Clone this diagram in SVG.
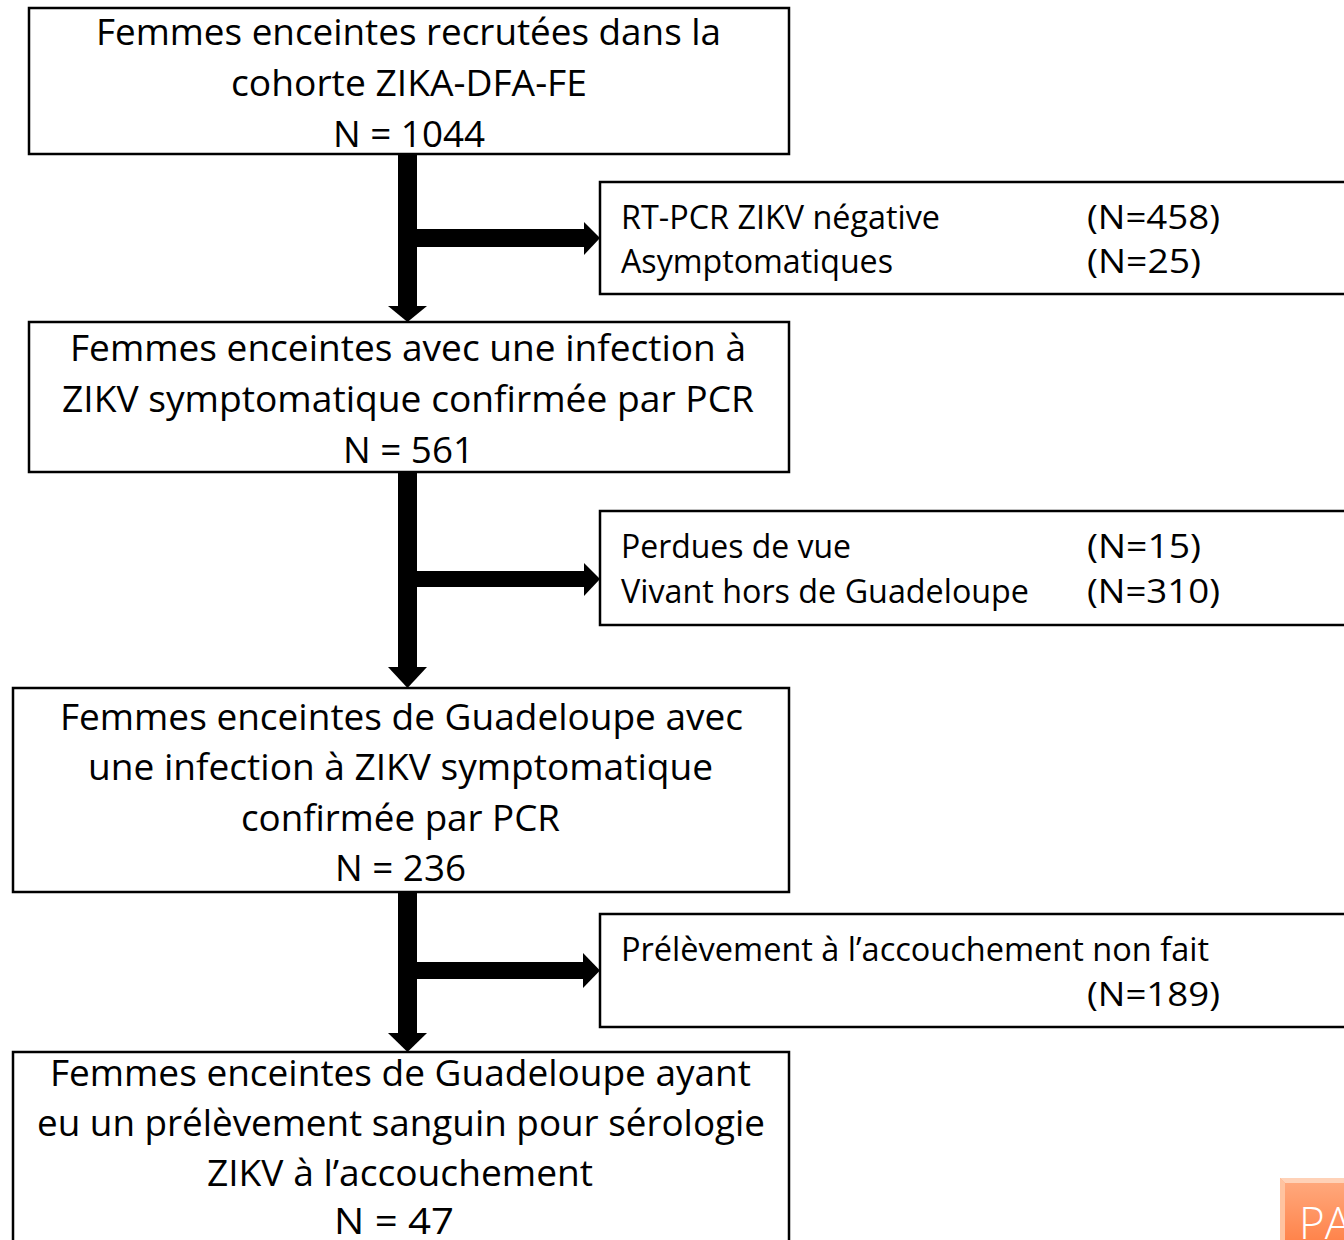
<svg xmlns="http://www.w3.org/2000/svg" width="1344" height="1240" viewBox="0 0 1344 1240">
<style>
.box{fill:#fff;stroke:#000;stroke-width:2.5}
.m{font-family:"Open Sans","Noto Sans","Liberation Sans",sans-serif;font-size:37px;fill:#000;text-anchor:middle;font-variant-ligatures:none}
.s{font-family:"Open Sans","Noto Sans","Liberation Sans",sans-serif;font-size:32px;fill:#000;font-variant-ligatures:none}
.arr{fill:#000;stroke:none}
</style>
<defs>
<linearGradient id="pa" x1="0" y1="0" x2="0" y2="1">
<stop offset="0" stop-color="#ffab80"/>
<stop offset="1" stop-color="#ff7f45"/>
</linearGradient>
</defs>
<rect width="1344" height="1240" fill="#fff"/>
<g id="connectors">
<rect class="arr" x="398" y="154" width="19" height="153"/>
<polygon class="arr" points="388,306 427,306 407.5,322"/>
<rect class="arr" x="416" y="229" width="169" height="18"/>
<polygon class="arr" points="584,222 600,238 584,255"/>
<rect class="arr" x="398" y="472" width="19" height="196"/>
<polygon class="arr" points="388,667 427,667 407.5,688"/>
<rect class="arr" x="416" y="571" width="169" height="16"/>
<polygon class="arr" points="584,563 600,579 584,596"/>
<rect class="arr" x="398" y="892" width="19" height="142"/>
<polygon class="arr" points="388,1033 427,1033 407.5,1052"/>
<rect class="arr" x="416" y="962" width="168" height="17"/>
<polygon class="arr" points="583,953 600,970.5 583,988"/>
</g>
<g id="n1">
<rect class="box" x="29" y="8" width="760" height="146"/>
<text class="m" x="408.5" y="45" textLength="625" lengthAdjust="spacingAndGlyphs">Femmes enceintes recrutées dans la</text>
<text class="m" x="409" y="96" textLength="356" lengthAdjust="spacingAndGlyphs">cohorte ZIKA-DFA-FE</text>
<text class="m" x="409" y="147" textLength="152" lengthAdjust="spacingAndGlyphs">N = 1044</text>
</g>
<g id="s1">
<rect class="box" x="600" y="182" width="760" height="112"/>
<text class="s" x="621" y="229" textLength="319" lengthAdjust="spacingAndGlyphs">RT-PCR ZIKV négative</text>
<text class="s" x="1087" y="229" textLength="133" lengthAdjust="spacingAndGlyphs">(N=458)</text>
<text class="s" x="621" y="273" textLength="272" lengthAdjust="spacingAndGlyphs">Asymptomatiques</text>
<text class="s" x="1087" y="273" textLength="114" lengthAdjust="spacingAndGlyphs">(N=25)</text>
</g>
<g id="n2">
<rect class="box" x="29" y="322" width="760" height="150"/>
<text class="m" x="408" y="361" textLength="676" lengthAdjust="spacingAndGlyphs">Femmes enceintes avec une infection à</text>
<text class="m" x="408" y="412" textLength="692" lengthAdjust="spacingAndGlyphs">ZIKV symptomatique confirmée par PCR</text>
<text class="m" x="408.5" y="463" textLength="131" lengthAdjust="spacingAndGlyphs">N = 561</text>
</g>
<g id="s2">
<rect class="box" x="600" y="511" width="760" height="114"/>
<text class="s" x="621" y="558" textLength="230" lengthAdjust="spacingAndGlyphs">Perdues de vue</text>
<text class="s" x="1087" y="558" textLength="114" lengthAdjust="spacingAndGlyphs">(N=15)</text>
<text class="s" x="621" y="603" textLength="408" lengthAdjust="spacingAndGlyphs">Vivant hors de Guadeloupe</text>
<text class="s" x="1087" y="603" textLength="133" lengthAdjust="spacingAndGlyphs">(N=310)</text>
</g>
<g id="n3">
<rect class="box" x="13" y="688" width="776" height="204"/>
<text class="m" x="401.5" y="730" textLength="683" lengthAdjust="spacingAndGlyphs">Femmes enceintes de Guadeloupe avec</text>
<text class="m" x="400.5" y="780" textLength="625" lengthAdjust="spacingAndGlyphs">une infection à ZIKV symptomatique</text>
<text class="m" x="400.5" y="831" textLength="319" lengthAdjust="spacingAndGlyphs">confirmée par PCR</text>
<text class="m" x="400.5" y="881" textLength="131" lengthAdjust="spacingAndGlyphs">N = 236</text>
</g>
<g id="s3">
<rect class="box" x="600" y="914" width="760" height="113"/>
<text class="s" x="621" y="961" textLength="588" lengthAdjust="spacingAndGlyphs">Prélèvement à l’accouchement non fait</text>
<text class="s" x="1087" y="1006" textLength="133" lengthAdjust="spacingAndGlyphs">(N=189)</text>
</g>
<g id="n4">
<rect class="box" x="13" y="1052" width="776" height="200"/>
<text class="m" x="400.5" y="1086" textLength="701" lengthAdjust="spacingAndGlyphs">Femmes enceintes de Guadeloupe ayant</text>
<text class="m" x="401" y="1136" textLength="728" lengthAdjust="spacingAndGlyphs">eu un prélèvement sanguin pour sérologie</text>
<text class="m" x="400" y="1186" textLength="386" lengthAdjust="spacingAndGlyphs">ZIKV à l’accouchement</text>
<text class="m" x="394" y="1234" textLength="120" lengthAdjust="spacingAndGlyphs">N = 47</text>
</g>
<g id="pa-button">
<rect x="1283" y="1181" width="70" height="70" fill="#000" opacity="0.12"/>
<rect x="1280" y="1178" width="70" height="70" fill="url(#pa)"/>
<polygon points="1280,1178 1350,1178 1345,1183 1285,1183" fill="#ffd2b8"/>
<polygon points="1280,1178 1285,1183 1285,1248 1280,1248" fill="#ffc3a0"/>
<text x="1299" y="1239" font-family="'Open Sans','Liberation Sans',sans-serif" font-weight="300" font-size="44" fill="#fff">PA</text>
</g>
</svg>
